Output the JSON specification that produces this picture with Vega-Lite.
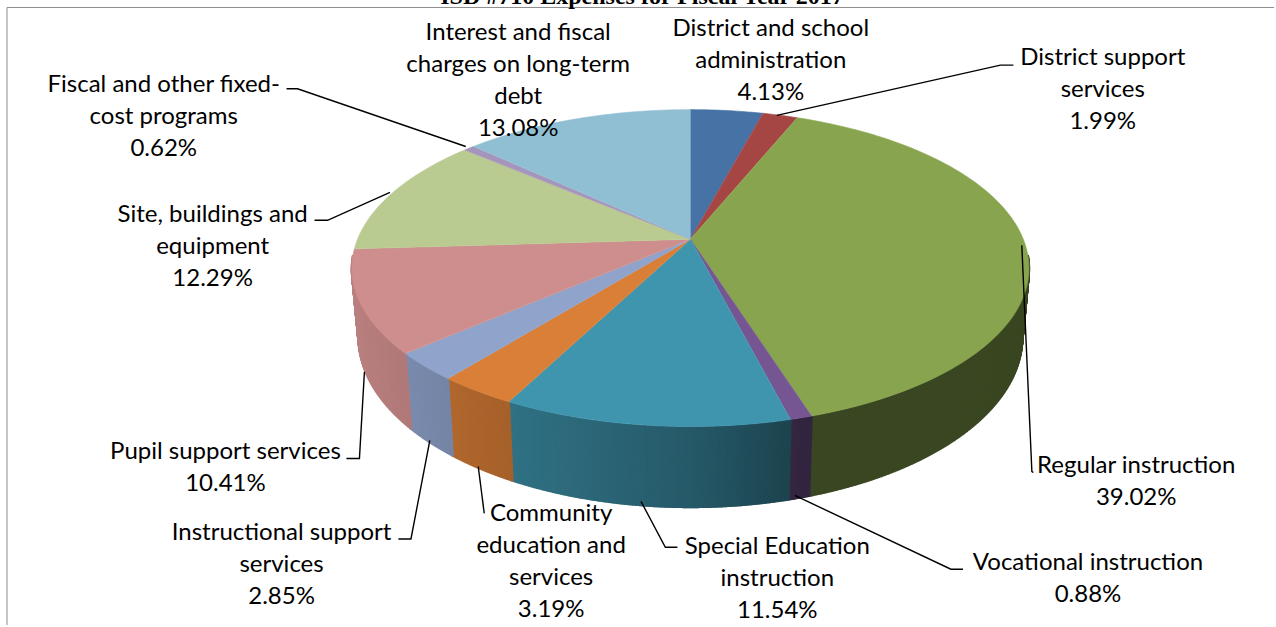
{
  "$schema": "https://vega.github.io/schema/vega-lite/v6.json",
  "width": 1276,
  "height": 627,
  "padding": 0,
  "autosize": {"type": "fit", "contains": "padding"},
  "background": "white",
  "config": {"view": {"stroke": null}},
  "params": [
    {"name": "cx", "value": 691.5},
    {"name": "cy", "value": 240},
    {"name": "rx", "value": 333.4},
    {"name": "ry", "value": 153.7},
    {"name": "tilt", "value": 0.182},
    {"name": "depth", "value": 67},
    {"name": "palette", "value": {
      "District and school administration": "#4672A6",
      "District support services": "#A64644",
      "Regular instruction": "#88A44E",
      "Vocational instruction": "#755592",
      "Special Education instruction": "#3F95AE",
      "Community education and services": "#D97F37",
      "Instructional support services": "#8FA3CB",
      "Pupil support services": "#CE8E8D",
      "Site, buildings and equipment": "#B9CB91",
      "Fiscal and other fixed-cost programs": "#A594BC",
      "Interest and fiscal charges on long-term debt": "#90BFD3"
    }}
  ],
  "datasets": {
    "slices": [
      {"order": 1, "category": "District and school administration", "value": 4.13},
      {"order": 2, "category": "District support services", "value": 1.99},
      {"order": 3, "category": "Regular instruction", "value": 39.02},
      {"order": 4, "category": "Vocational instruction", "value": 0.88},
      {"order": 5, "category": "Special Education instruction", "value": 11.54},
      {"order": 6, "category": "Community education and services", "value": 3.19},
      {"order": 7, "category": "Instructional support services", "value": 2.85},
      {"order": 8, "category": "Pupil support services", "value": 10.41},
      {"order": 9, "category": "Site, buildings and equipment", "value": 12.29},
      {"order": 10, "category": "Fiscal and other fixed-cost programs", "value": 0.62},
      {"order": 11, "category": "Interest and fiscal charges on long-term debt", "value": 13.08}
    ],
    "labels": [
      {"category": "District and school administration", "wrapped": "District and school|administration", "x": 772, "y": 36},
      {"category": "District support services", "wrapped": "District support|services", "x": 1104.5, "y": 65.7},
      {"category": "Regular instruction", "wrapped": "Regular instruction", "x": 1138, "y": 474.7},
      {"category": "Vocational instruction", "wrapped": "Vocational instruction", "x": 1089.7, "y": 572},
      {"category": "Special Education instruction", "wrapped": "Special Education|instruction", "x": 778.5, "y": 555.7},
      {"category": "Community education and services", "wrapped": "Community|education and|services", "x": 552, "y": 522.7},
      {"category": "Instructional support services", "wrapped": "Instructional support|services", "x": 282, "y": 541.7},
      {"category": "Pupil support services", "wrapped": "Pupil support services", "x": 225.8, "y": 460},
      {"category": "Site, buildings and equipment", "wrapped": "Site, buildings and|equipment", "x": 213, "y": 222.7},
      {"category": "Fiscal and other fixed-cost programs", "wrapped": "Fiscal and other fixed-|cost programs", "x": 164, "y": 92},
      {"category": "Interest and fiscal charges on long-term debt", "wrapped": "Interest and fiscal|charges on long-term|debt", "x": 519, "y": 40}
    ],
    "leaders": [
      {"leader": "Fiscal", "step": 1, "x": 287, "y": 89},
      {"leader": "Fiscal", "step": 2, "x": 298, "y": 89},
      {"leader": "Fiscal", "step": 3, "x": 466.5, "y": 147},
      {"leader": "Site", "step": 1, "x": 315, "y": 221},
      {"leader": "Site", "step": 2, "x": 328, "y": 221},
      {"leader": "Site", "step": 3, "x": 390.6, "y": 193},
      {"leader": "Support", "step": 1, "x": 1015, "y": 65.3},
      {"leader": "Support", "step": 2, "x": 1002, "y": 65.3},
      {"leader": "Support", "step": 3, "x": 778, "y": 115.7},
      {"leader": "Regular", "step": 1, "x": 1023.4, "y": 246},
      {"leader": "Regular", "step": 2, "x": 1033.5, "y": 473},
      {"leader": "Regular", "step": 3, "x": 1035, "y": 474},
      {"leader": "Vocational", "step": 1, "x": 964.5, "y": 571},
      {"leader": "Vocational", "step": 2, "x": 952.4, "y": 571},
      {"leader": "Vocational", "step": 3, "x": 796, "y": 497},
      {"leader": "Special", "step": 1, "x": 678.5, "y": 549},
      {"leader": "Special", "step": 2, "x": 666.4, "y": 549},
      {"leader": "Special", "step": 3, "x": 642, "y": 503},
      {"leader": "Community", "step": 1, "x": 485, "y": 515},
      {"leader": "Community", "step": 2, "x": 479, "y": 468},
      {"leader": "Instructional", "step": 1, "x": 399, "y": 540.7},
      {"leader": "Instructional", "step": 2, "x": 411.6, "y": 540.7},
      {"leader": "Instructional", "step": 3, "x": 430.5, "y": 441.7},
      {"leader": "Pupil", "step": 1, "x": 347, "y": 460},
      {"leader": "Pupil", "step": 2, "x": 360, "y": 460},
      {"leader": "Pupil", "step": 3, "x": 365, "y": 373}
    ],
    "frame": [
      {"edge": "top", "step": 1, "x": 7, "y": 7.5},
      {"edge": "top", "step": 2, "x": 1276, "y": 7.5},
      {"edge": "left", "step": 1, "x": 7, "y": 7.5},
      {"edge": "left", "step": 2, "x": 7, "y": 627}
    ],
    "heading": [
      {"text": "ISD #710 Expenses for Fiscal Year 2017", "x": 643, "y": 4}
    ]
  },
  "layer": [
    {
      "description": "Frame of the chart area",
      "data": {"name": "frame"},
      "mark": {"type": "line", "color": "#8c8c8c", "strokeWidth": 1},
      "encoding": {
        "x": {"field": "x", "type": "quantitative", "scale": {"domain": [0, 1276], "nice": false, "zero": false}, "axis": null},
        "y": {"field": "y", "type": "quantitative", "scale": {"domain": [627, 0], "nice": false, "zero": false}, "axis": null},
        "detail": {"field": "edge"},
        "order": {"field": "step", "type": "quantitative"}
      }
    },
    {
      "description": "Outer wall of the disc, one thin shaded strip per step along the front rim",
      "data": {"name": "slices"},
      "transform": [
        {"window": [{"op": "sum", "field": "value", "as": "cum"}], "sort": [{"field": "order", "order": "ascending"}]},
        {"calculate": "ceil(datum.value * 18)", "as": "n"},
        {"calculate": "sequence(0, datum.n + 1)", "as": "i"},
        {"flatten": ["i"]},
        {"calculate": "2 * PI * (datum.cum - datum.value + datum.value * datum.i / datum.n) / 100", "as": "a"},
        {"calculate": "-cos(datum.a)", "as": "v"},
        {"filter": "datum.v > 0.1"},
        {"calculate": "1 - tilt * datum.v", "as": "w"},
        {"calculate": "cx + rx * sin(datum.a) / datum.w", "as": "px"},
        {"calculate": "cy + ry * datum.v / datum.w", "as": "py"},
        {"calculate": "cx + (datum.px - cx) * 0.98", "as": "qx"},
        {"calculate": "datum.py + depth / datum.w", "as": "qy"},
        {"calculate": "(datum.px - cx) / 340", "as": "side"},
        {"calculate": "datum.side < 0 ? 0.6 - 0.3 * datum.side : max(0.43, 0.6 - 0.5 * datum.side)", "as": "light"},
        {"calculate": "rgb(palette[datum.category])", "as": "base"},
        {"calculate": "'rgb(' + round(datum.base.r * datum.light) + ',' + round(datum.base.g * datum.light) + ',' + round(datum.base.b * datum.light) + ')'", "as": "wall"}
      ],
      "mark": {"type": "rule", "strokeWidth": 2.5},
      "encoding": {
        "x": {"field": "px", "type": "quantitative"},
        "x2": {"field": "qx"},
        "y": {"field": "py", "type": "quantitative"},
        "y2": {"field": "qy"},
        "color": {"field": "wall", "type": "nominal", "scale": null, "legend": null}
      }
    },
    {
      "description": "Top face of the disc: each wedge spans its share of the full turn",
      "data": {"name": "slices"},
      "transform": [
        {"window": [{"op": "sum", "field": "value", "as": "cum"}], "sort": [{"field": "order", "order": "ascending"}]},
        {"calculate": "ceil(datum.value * 3) + 1", "as": "n"},
        {"calculate": "sequence(-1, datum.n + 1)", "as": "i"},
        {"flatten": ["i"]},
        {"calculate": "2 * PI * (datum.cum - datum.value + datum.value * datum.i / datum.n) / 100", "as": "a"},
        {"calculate": "-cos(datum.a)", "as": "v"},
        {"calculate": "1 - tilt * datum.v", "as": "w"},
        {"calculate": "datum.i < 0 ? cx : cx + rx * sin(datum.a) / datum.w", "as": "px"},
        {"calculate": "datum.i < 0 ? cy : cy + ry * datum.v / datum.w", "as": "py"}
      ],
      "mark": {"type": "line", "filled": true, "strokeWidth": 0.6, "interpolate": "linear"},
      "encoding": {
        "x": {"field": "px", "type": "quantitative"},
        "y": {"field": "py", "type": "quantitative"},
        "order": {"field": "i", "type": "quantitative"},
        "fill": {
          "field": "category",
          "type": "nominal",
          "legend": null,
          "scale": {
            "domain": [
              "District and school administration",
              "District support services",
              "Regular instruction",
              "Vocational instruction",
              "Special Education instruction",
              "Community education and services",
              "Instructional support services",
              "Pupil support services",
              "Site, buildings and equipment",
              "Fiscal and other fixed-cost programs",
              "Interest and fiscal charges on long-term debt"
            ],
            "range": ["#4672A6", "#A64644", "#88A44E", "#755592", "#3F95AE", "#D97F37", "#8FA3CB", "#CE8E8D", "#B9CB91", "#A594BC", "#90BFD3"]
          }
        },
        "stroke": {"field": "category", "type": "nominal", "legend": null, "scale": {
            "domain": [
              "District and school administration",
              "District support services",
              "Regular instruction",
              "Vocational instruction",
              "Special Education instruction",
              "Community education and services",
              "Instructional support services",
              "Pupil support services",
              "Site, buildings and equipment",
              "Fiscal and other fixed-cost programs",
              "Interest and fiscal charges on long-term debt"
            ],
            "range": ["#4672A6", "#A64644", "#88A44E", "#755592", "#3F95AE", "#D97F37", "#8FA3CB", "#CE8E8D", "#B9CB91", "#A594BC", "#90BFD3"]
        }}
      }
    },
    {
      "description": "Leader lines from the labels to their wedges",
      "data": {"name": "leaders"},
      "mark": {"type": "line", "color": "#000000", "strokeWidth": 1.4},
      "encoding": {
        "x": {"field": "x", "type": "quantitative"},
        "y": {"field": "y", "type": "quantitative"},
        "detail": {"field": "leader"},
        "order": {"field": "step", "type": "quantitative"}
      }
    },
    {
      "description": "Category names with their percentage as the last line",
      "data": {"name": "labels"},
      "transform": [
        {"lookup": "category", "from": {"data": {"name": "slices"}, "key": "category", "fields": ["value"]}},
        {"calculate": "split(datum.wrapped + '|' + format(datum.value, '.2f') + '%', '|')", "as": "lines"}
      ],
      "mark": {"type": "text", "font": "Lato", "fontSize": 24, "lineHeight": 32, "align": "center", "baseline": "alphabetic", "color": "#000000"},
      "encoding": {
        "x": {"field": "x", "type": "quantitative"},
        "y": {"field": "y", "type": "quantitative"},
        "text": {"field": "lines"}
      }
    },
    {
      "description": "Chart heading, running off the top of the page",
      "data": {"name": "heading"},
      "mark": {"type": "text", "clip": true, "font": "Liberation Serif", "fontWeight": "bold", "fontSize": 24, "align": "center", "baseline": "alphabetic", "color": "#000000"},
      "encoding": {
        "x": {"field": "x", "type": "quantitative"},
        "y": {"field": "y", "type": "quantitative"},
        "text": {"field": "text"}
      }
    }
  ]
}
